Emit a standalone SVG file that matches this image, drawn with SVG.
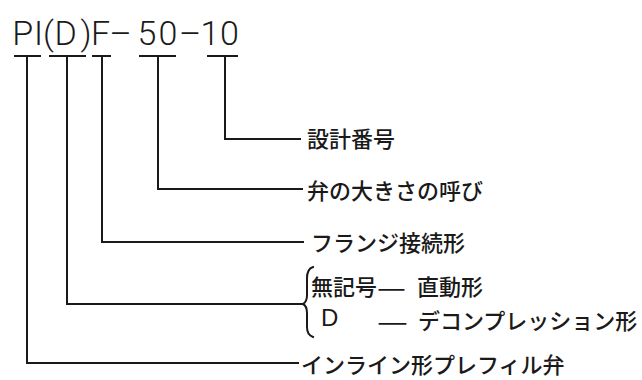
<svg xmlns="http://www.w3.org/2000/svg" width="642" height="380" viewBox="0 0 642 380">
<style>
.t{font-family:Roboto,"Liberation Sans",Arial,sans-serif;font-weight:300;font-size:34px;fill:#1a1a1a}
.j{font-family:"Noto Sans CJK JP","Noto Sans",sans-serif;font-size:22px;font-weight:500;fill:#1a1a1a;dominant-baseline:central}
.c{fill:none;stroke:#1a1a1a;stroke-width:2;stroke-linecap:square}
</style>
<rect width="642" height="380" fill="#ffffff"/>
<g id="code">
<text class="t" y="45"><tspan x="12.3">P</tspan><tspan x="34">I</tspan><tspan x="43">(</tspan><tspan x="54.5">D</tspan><tspan x="80.5">)</tspan><tspan x="91">F</tspan><tspan x="109.5">–</tspan><tspan x="137.5">5</tspan><tspan x="158.5">0</tspan><tspan x="179">–</tspan><tspan x="200.5">1</tspan><tspan x="220">0</tspan></text>
</g>
<g id="connectors">
<path class="c" d="M15 56H40M27 56V363H298"/>
<path class="c" d="M50 56H85M67 56V304H303"/>
<path class="c" d="M93 56H110M102 56V242H303"/>
<path class="c" d="M140 56H175M158 56V189H302"/>
<path class="c" d="M208 56H237M225 56V139H300"/>
</g>
<g id="design-no"><text class="j" x="307" y="137">設計番号</text></g>
<g id="size"><text class="j" x="307" y="189">弁の大きさの呼び</text></g>
<g id="flange"><text class="j" x="311" y="241">フランジ接続形</text></g>
<g id="type">
<path class="c" d="M313 267Q307 269 307 278V295Q307 302 303 304Q307 306 307 313V327Q307 335 313 337" stroke-linecap="round"/>
<text class="j" x="311" y="285">無記号</text>
<text class="j" x="377" y="286" textLength="29" lengthAdjust="spacingAndGlyphs">—</text>
<text class="j" x="417" y="285">直動形</text>
<text class="j" x="321" y="317" style="font-family:'Liberation Sans',sans-serif;font-size:24px;font-weight:400">D</text>
<text class="j" x="377" y="320" textLength="31" lengthAdjust="spacingAndGlyphs">—</text>
<text class="j" x="418" y="319">デコンプレッション形</text>
</g>
<g id="valve"><text class="j" x="301" y="363">インライン形プレフィル弁</text></g>
</svg>
